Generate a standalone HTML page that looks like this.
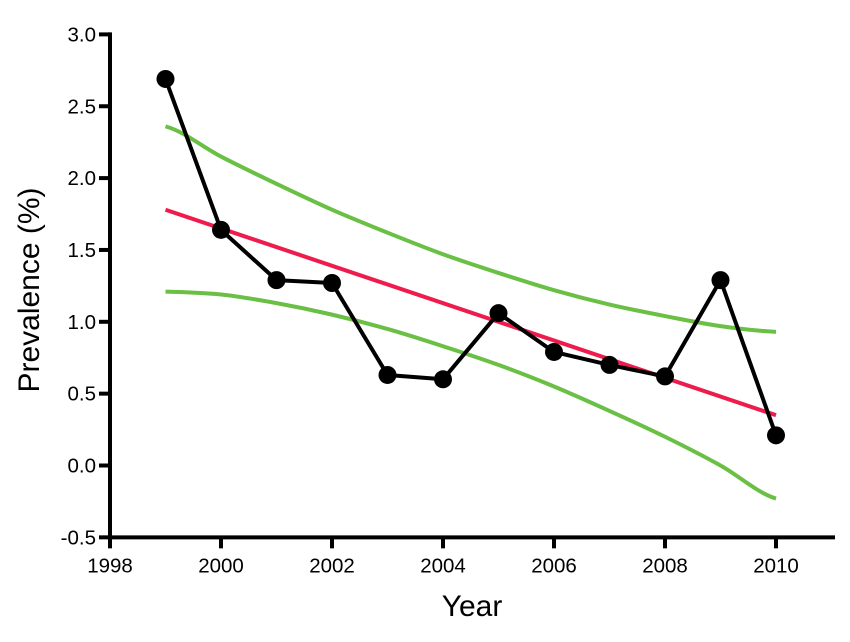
<!DOCTYPE html>
<html><head><meta charset="utf-8"><style>
body{margin:0;background:#fff}
svg{display:block;font-family:"Liberation Sans",Arial,sans-serif}
</style></head><body>
<svg id="chart" width="850" height="642"></svg>
<script>
const years=[1999,2000,2001,2002,2003,2004,2005,2006,2007,2008,2009,2010];
const prevalence=[2.69,1.64,1.29,1.27,0.63,0.60,1.06,0.79,0.70,0.62,1.29,0.21];
const trendStart=[1999,1.78];
const trendEnd=[2010,0.35];
const upperCI=[2.36,2.15,1.96,1.78,1.62,1.47,1.34,1.22,1.12,1.04,0.97,0.93];
const lowerCI=[1.21,1.19,1.13,1.05,0.95,0.83,0.70,0.55,0.38,0.20,0.00,-0.23];
const yTicks=[3.0,2.5,2.0,1.5,1.0,0.5,0.0,-0.5];
const yTickLabels=["3.0","2.5","2.0","1.5","1.0","0.5","0.0","-0.5"];
const xTicks=[1998,2000,2002,2004,2006,2008,2010];

const svg=document.getElementById('chart');
const NS='http://www.w3.org/2000/svg';
const X=v=>110+(v-1998)*55.5;
const Y=v=>465.5-v*143.7;
function mk(tag,attrs,name,parent){const e=document.createElementNS(NS,tag);for(const k in attrs)e.setAttribute(k,attrs[k]);


(parent||svg).appendChild(e);return e;}
const ax=mk('g',{},'axes');
mk('line',{x1:110,y1:Y(3)-2,x2:110,y2:Y(-0.5)+2,stroke:'#000','stroke-width':4},'y-axis-line',ax);
mk('line',{x1:108,y1:Y(-0.5),x2:835,y2:Y(-0.5),stroke:'#000','stroke-width':4},'x-axis-line',ax);
yTicks.forEach((t,i)=>{
 mk('line',{x1:99,y1:Y(t),x2:110,y2:Y(t),stroke:'#000','stroke-width':4},'y-tick',ax);
 const tx=mk('text',{x:96,y:Y(t)+7,'text-anchor':'end','font-size':20.5},'y-tick-label',ax);tx.textContent=yTickLabels[i];
});
xTicks.forEach(t=>{
 mk('line',{x1:X(t),y1:Y(-0.5),x2:X(t),y2:Y(-0.5)+11,stroke:'#000','stroke-width':4},'x-tick',ax);
 const tx=mk('text',{x:X(t),y:Y(-0.5)+35,'text-anchor':'middle','font-size':20.5},'x-tick-label',ax);tx.textContent=t;
});
const yl=mk('text',{x:0,y:0,transform:'translate(39,290) rotate(-90)','text-anchor':'middle','font-size':30},'y-axis-title');yl.textContent='Prevalence (%)';
const xl=mk('text',{x:472,y:616,'text-anchor':'middle','font-size':30},'x-axis-title');xl.textContent='Year';
function curve(vals,name,color){
 let d='M'+X(years[0])+','+Y(vals[0]);
 for(let i=1;i<years.length;i++){
  const x0=X(years[i-1]),x1=X(years[i]);
  const p0=i>1?vals[i-2]:vals[i-1],p3=i<years.length-1?vals[i+1]:vals[i];
  const c1=Y(vals[i-1])+(Y(vals[i])-Y(p0))/6,c2=Y(vals[i])-(Y(p3)-Y(vals[i-1]))/6;
  d+=` C${x0+(x1-x0)/3},${c1} ${x1-(x1-x0)/3},${c2} ${x1},${Y(vals[i])}`;
 }
 mk('path',{d,fill:'none',stroke:color,'stroke-width':4},name);
}
curve(upperCI,'upper-confidence-band','#6abf45');
curve(lowerCI,'lower-confidence-band','#6abf45');
mk('line',{x1:X(trendStart[0]),y1:Y(trendStart[1]),x2:X(trendEnd[0]),y2:Y(trendEnd[1]),stroke:'#ee1c4c','stroke-width':4},'trend-line');
mk('polyline',{points:years.map((y,i)=>X(y)+','+Y(prevalence[i])).join(' '),fill:'none',stroke:'#000','stroke-width':4,'stroke-linejoin':'round'},'prevalence-line');
years.forEach((y,i)=>{mk('circle',{cx:X(y),cy:Y(prevalence[i]),r:9,fill:'#000'},'data-point-'+y);});
</script>
</body></html>
